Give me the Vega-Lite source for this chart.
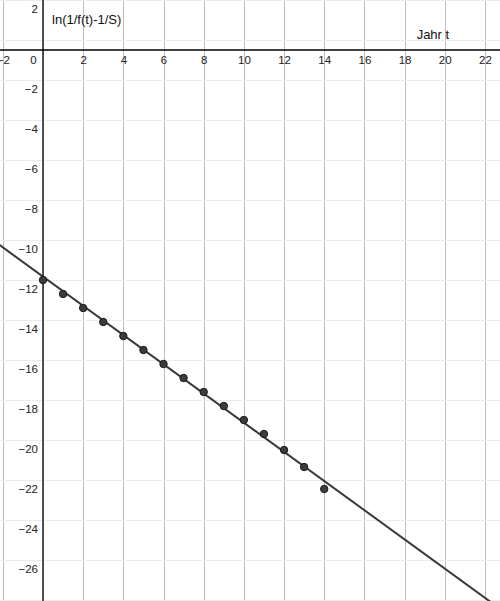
{
  "$schema": "https://vega.github.io/schema/vega-lite/v6.json",
  "width": 500,
  "height": 601,
  "autosize": {"type": "none"},
  "padding": 0,
  "background": "white",
  "config": {"view": {"stroke": null}, "font": "Liberation Sans"},
  "datasets": {
    "points": [
      {"t": 0, "v": -11.5}, {"t": 1, "v": -12.2}, {"t": 2, "v": -12.9}, {"t": 3, "v": -13.6},
      {"t": 4, "v": -14.3}, {"t": 5, "v": -15.0}, {"t": 6, "v": -15.7}, {"t": 7, "v": -16.4},
      {"t": 8, "v": -17.1}, {"t": 9, "v": -17.8}, {"t": 10, "v": -18.5}, {"t": 11, "v": -19.2},
      {"t": 12, "v": -20.0}, {"t": 13, "v": -20.85}, {"t": 14, "v": -21.95}
    ],
    "fit": [{"t": -2.2, "v": -9.724}, {"t": 23, "v": -28.12}],
    "titles": [
      {"t": 0.45, "v": 1.5, "label": "ln(1/f(t)-1/S)"},
      {"t": 18.6, "v": 0.75, "label": "Jahr t"}
    ],
    "yticks": [
      {"v": 2, "label": "2"}, {"v": -2, "label": "−2"}, {"v": -4, "label": "−4"}, {"v": -6, "label": "−6"},
      {"v": -8, "label": "−8"}, {"v": -10, "label": "−10"}, {"v": -12, "label": "−12"}, {"v": -14, "label": "−14"},
      {"v": -16, "label": "−16"}, {"v": -18, "label": "−18"}, {"v": -20, "label": "−20"}, {"v": -22, "label": "−22"},
      {"v": -24, "label": "−24"}, {"v": -26, "label": "−26"}
    ]
  },
  "layer": [
    {
      "data": {"name": "fit"},
      "mark": {"type": "line", "color": "#383838", "strokeWidth": 2, "clip": true, "opacity": 0},
      "encoding": {
        "x": {
          "field": "t", "type": "quantitative",
          "scale": {"domain": [-2.14, 22.75], "nice": false, "zero": false},
          "axis": {
            "orient": "bottom",
            "offset": -551,
            "title": null,
            "values": [-2,-1.5,-1,-0.5,0,0.5,1,1.5,2,2.5,3,3.5,4,4.5,5,5.5,6,6.5,7,7.5,8,8.5,9,9.5,10,10.5,11,11.5,12,12.5,13,13.5,14,14.5,15,15.5,16,16.5,17,17.5,18,18.5,19,19.5,20,20.5,21,21.5,22,22.5],
            "grid": true,
            "gridColor": {"condition": {"test": "datum.value % 2 === 0", "value": "#bdbdbd"}, "value": "#ebebeb"},
            "gridWidth": 1,
            "ticks": false,
            "domain": false,
            "labelExpr": "datum.value % 2 === 0 ? datum.label : ''",
            "labelOffset": {"condition": {"test": "datum.value === 0", "value": -10}, "value": 0},
            "labelOverlap": false,
            "labelFlush": false,
            "labelPadding": 4,
            "labelFontSize": 11.5,
            "labelColor": "#222222",
            "labelFont": "Liberation Sans"
          }
        },
        "y": {
          "field": "v", "type": "quantitative",
          "scale": {"domain": [-27.55, 2.5], "nice": false, "zero": false},
          "axis": {
            "orient": "left",
            "title": null,
            "values": [-27.5,-27,-26.5,-26,-25.5,-25,-24.5,-24,-23.5,-23,-22.5,-22,-21.5,-21,-20.5,-20,-19.5,-19,-18.5,-18,-17.5,-17,-16.5,-16,-15.5,-15,-14.5,-14,-13.5,-13,-12.5,-12,-11.5,-11,-10.5,-10,-9.5,-9,-8.5,-8,-7.5,-7,-6.5,-6,-5.5,-5,-4.5,-4,-3.5,-3,-2.5,-2,-1.5,-1,-0.5,0,0.5,1,1.5,2,2.5],
            "grid": true,
            "gridColor": {"condition": {"test": "datum.value % 2 === 0", "value": "#bdbdbd"}, "value": "#ebebeb"},
            "gridWidth": 1,
            "ticks": false,
            "domain": false,
            "labels": false
          }
        }
      }
    },
    {
      "data": {"values": [{}]},
      "mark": {"type": "rule", "color": "#000000", "strokeWidth": 1.3},
      "encoding": {"y": {"datum": 0}}
    },
    {
      "data": {"values": [{}]},
      "mark": {"type": "rule", "color": "#000000", "strokeWidth": 1.3},
      "encoding": {"x": {"datum": 0}}
    },
    {
      "data": {"name": "yticks"},
      "mark": {"type": "text", "align": "right", "baseline": "middle", "dx": -5, "fontSize": 11.5, "color": "#222222", "font": "Liberation Sans"},
      "encoding": {
        "x": {"datum": 0, "type": "quantitative"},
        "y": {"field": "v", "type": "quantitative"},
        "text": {"field": "label"}
      }
    },
    {
      "data": {"name": "fit"},
      "mark": {"type": "line", "color": "#383838", "strokeWidth": 2, "clip": true},
      "encoding": {
        "x": {"field": "t", "type": "quantitative"},
        "y": {"field": "v", "type": "quantitative"}
      }
    },
    {
      "data": {"name": "points"},
      "mark": {"type": "circle", "size": 55, "color": "#3c3c3c", "opacity": 1, "stroke": "#1a1a1a", "strokeWidth": 1},
      "encoding": {
        "x": {"field": "t", "type": "quantitative"},
        "y": {"field": "v", "type": "quantitative"}
      }
    },
    {
      "data": {"name": "titles"},
      "mark": {"type": "text", "align": "left", "baseline": "middle", "fontSize": 13, "color": "#111111", "font": "Liberation Sans"},
      "encoding": {
        "x": {"field": "t", "type": "quantitative"},
        "y": {"field": "v", "type": "quantitative"},
        "text": {"field": "label"}
      }
    }
  ]
}
